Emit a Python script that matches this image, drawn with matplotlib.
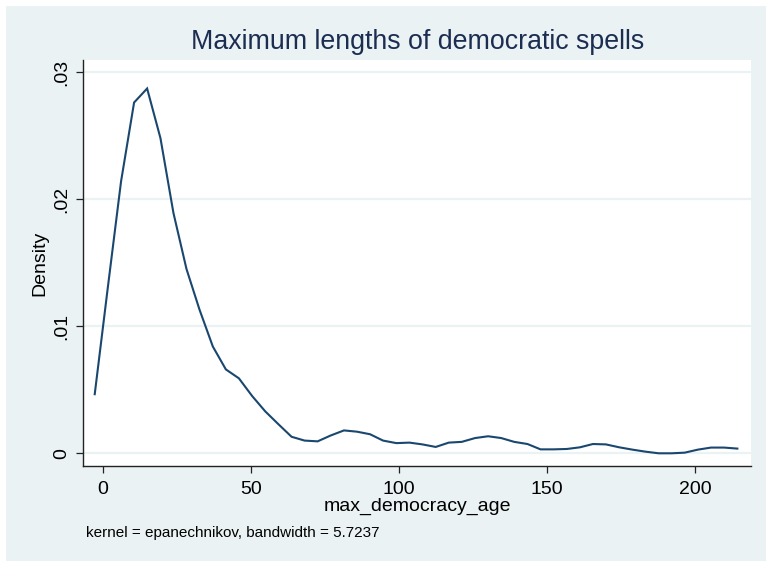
import matplotlib
matplotlib.use("Agg")
import matplotlib.pyplot as plt
from matplotlib.patches import Rectangle

plt.rcParams['font.family'] = ['Liberation Sans', 'DejaVu Sans']

# evaluation points (max_democracy_age) and estimated density
age = [-2.8, 1.6, 6.1, 10.5, 14.9, 19.4, 23.8, 28.2, 32.6, 37.1,
       41.5, 45.9, 50.4, 54.8, 59.2, 63.7, 68.1, 72.5, 76.9, 81.4,
       85.8, 90.2, 94.6, 99.1, 103.5, 107.9, 112.4, 116.8, 121.2, 125.7,
       130.1, 134.5, 138.9, 143.4, 147.8, 152.2, 156.7, 161.1, 165.5, 169.9,
       174.4, 178.8, 183.2, 187.7, 192.1, 196.5, 201.0, 205.4, 209.8, 214.3]
density = [0.00465, 0.0130, 0.0214, 0.0276, 0.0287, 0.0248, 0.0189, 0.0145, 0.0113, 0.0084,
           0.0066, 0.0059, 0.0045, 0.0033, 0.0023, 0.0013, 0.0010, 0.00094, 0.0014, 0.0018,
           0.0017, 0.0015, 0.0010, 0.0008, 0.00084, 0.0007, 0.0005, 0.00084, 0.0009, 0.0012,
           0.00134, 0.0012, 0.0009, 0.00073, 0.00031, 0.00031, 0.00034, 0.00047, 0.00073, 0.0007,
           0.00047, 0.00029, 0.00013, 0.0, 0.0, 0.00005, 0.00029, 0.00045, 0.00045, 0.00037]

xticks = [0, 50, 100, 150, 200]
yticks = [0, 0.01, 0.02, 0.03]
ytick_labels = ['0', '.01', '.02', '.03']

W, H = 766, 562
fig = plt.figure(figsize=(W / 100, H / 100), dpi=100, facecolor='white')
bg = '#EAF2F3'
fig.patches.append(Rectangle((6 / W, 1 / H), (W - 6) / W, (H - 7) / H,
                             transform=fig.transFigure, facecolor=bg,
                             edgecolor='none', zorder=-10))

left, right, top, bottom = 83, 751, 60.3, 465.7
ax = fig.add_axes([left / W, 1 - bottom / H, (right - left) / W, (bottom - top) / H])
ax.set_facecolor('white')

ax.plot(age, density, color='#1a476f', linewidth=1.5, solid_joinstyle='miter', zorder=3)

ax.set_xlim(-6.76, 218.9)
ax.set_ylim(-0.000976, 0.03092)
ax.set_xticks(xticks)
ax.set_yticks(yticks)
ax.set_yticklabels(ytick_labels, rotation=90, va='center')
ax.yaxis.grid(True, color=bg, linewidth=1.6, zorder=0)
ax.xaxis.grid(False)
ax.set_axisbelow(True)

for s in ['top', 'right']:
    ax.spines[s].set_visible(False)
for s in ['left', 'bottom']:
    ax.spines[s].set_color('#222222')
    ax.spines[s].set_linewidth(1.0)

ax.tick_params(axis='both', direction='out', length=5, width=0.9, color='#222222',
               labelsize=14, labelcolor='black')
ax.tick_params(axis='x', pad=6)
ax.tick_params(axis='y', pad=4)

ax.set_xlabel('max_democracy_age', fontsize=14, labelpad=0, color='black')
ax.set_ylabel('Density', fontsize=14, labelpad=4, color='black')

fig.text(418 / W, 1 - 42 / H, 'Maximum lengths of democratic spells',
         ha='center', va='center', fontsize=19.3, color='#1c2d52')
fig.text(86 / W, 1 - 533 / H, 'kernel = epanechnikov, bandwidth = 5.7237',
         ha='left', va='center', fontsize=11, color='black')

fig.savefig('out.png', dpi=100, facecolor=fig.get_facecolor())
